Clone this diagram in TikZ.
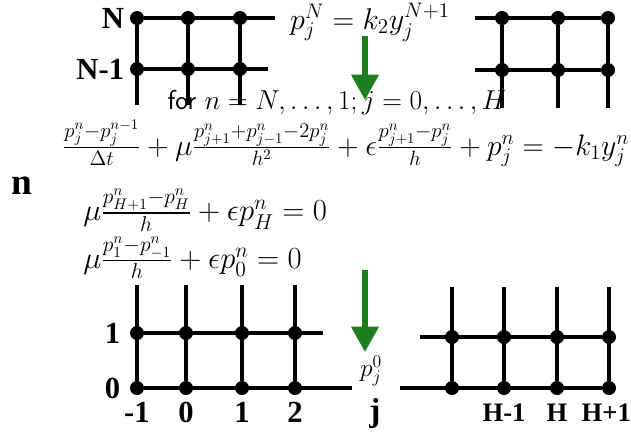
\RequirePackage{fix-cm}
\documentclass[tikz,border=0pt]{standalone}
\usepackage{fontspec}
\usepackage{amsmath}
\usetikzlibrary{arrows.meta,positioning}
\newfontfamily\lblfont{Liberation Serif}
\definecolor{flowGreen}{HTML}{1C7E1C}
\DeclareSymbolFont{sfdigits}{OT1}{cmss}{m}{n}
\DeclareMathSymbol{0}{\mathalpha}{sfdigits}{`0}
\DeclareMathSymbol{1}{\mathalpha}{sfdigits}{`1}
\DeclareMathSymbol{2}{\mathalpha}{sfdigits}{`2}

\begin{document}
\begin{tikzpicture}[x=0.75pt,y=-0.75pt,
    dot/.style={circle,fill=black,inner sep=0pt,minimum size=10.5pt},
    grid/.style={line width=2.6pt},
    lbl/.style={font=\lblfont\bfseries\fontsize{23}{24}\selectfont,inner sep=0pt},
    hlbl/.style={lbl,font=\lblfont\bfseries\fontsize{20}{22}\selectfont},
    eq/.style={font=\fontsize{22.5}{25}\selectfont,inner sep=0pt},
    flow/.style={-{Triangle[width=20pt,length=19pt]},line width=3.8pt,flowGreen}]
  \useasboundingbox (0,0) rectangle (631,440);

  \foreach \c/\x in {a/137,b/188,c/240}{
    \node[dot] (tN\c) at (\x,18) {};
    \node[dot] (tM\c) at (\x,69) {};
    \coordinate (tE\c) at (\x,105);
  }
  \coordinate (tNend) at (275,18);
  \coordinate (tMend) at (268,69);
  \draw[grid] (tNa) -- (tNend) (tMa) -- (tMend);
  \foreach \c in {a,b,c} \draw[grid] (tN\c) -- (tE\c);
  \node[lbl,left=4pt of tNa] {N};
  \node[lbl,left=4pt of tMa] {N-1};

  \foreach \c/\x in {a/502,b/558,c/608}{
    \node[dot] (rN\c) at (\x,18) {};
    \node[dot] (rM\c) at (\x,70) {};
    \coordinate (rE\c) at (\x,108);
  }
  \coordinate (rNbeg) at (475,18);
  \coordinate (rMbeg) at (475,70);
  \draw[grid] (rNbeg) -- (rNc) (rMbeg) -- (rMc);
  \foreach \c in {a,b,c} \draw[grid] (rN\c) -- (rE\c);

  \foreach \c/\x/\t in {a/137/-1,b/186/0,c/242/1,d/295/2}{
    \coordinate (bT\c) at (\x,285);
    \node[dot] (bO\c) at (\x,333) {};
    \node[dot] (bZ\c) at (\x,388) {};
    \node[lbl,below=5pt of bZ\c] {\t};
  }
  \coordinate (bOend) at (323,333);
  \coordinate (bZend) at (352,388);
  \draw[grid] (bOa) -- (bOend) (bZa) -- (bZend);
  \foreach \c in {a,b,c,d} \draw[grid] (bT\c) -- (bZ\c);
  \node[lbl,left=7pt of bOa] {1};
  \node[lbl,left=7pt of bZa] {0};

  \foreach \c/\x in {a/452,b/504,c/557,d/609}{
    \coordinate (cT\c) at (\x,287);
    \node[dot] (cO\c) at (\x,337) {};
    \node[dot] (cZ\c) at (\x,388) {};
  }
  \coordinate (cObeg) at (420,337);
  \coordinate (cZbeg) at (400,388);
  \draw[grid] (cObeg) -- (cOd) (cZbeg) -- (cZd);
  \foreach \c in {a,b,c,d} \draw[grid] (cT\c) -- (cZ\c);
  \node[hlbl,below=6pt of cZb] {H-1};
  \node[hlbl,below=6pt of cZc] {H};
  \node[hlbl,below=6pt of cZd,xshift=-2pt] {H+1};

  \node[eq] (pN) at (370,22) {$p_j^N=k_2y_j^{N+1}$};
  \node[eq,font=\fontsize{20.5}{23}\selectfont] (loop) at (337,103) {\textsf{for} $n=N,\ldots,1;j=0,\ldots,H$};
  \node[eq,font=\fontsize{22.2}{25}\selectfont] (main) at (346,143)
    {$\tfrac{p_j^n-p_j^{n-1}}{\Delta t}+\mu\tfrac{p_{j+1}^n+p_{j-1}^n-2p_j^n}{h^2}+\epsilon\tfrac{p_{j+1}^n-p_j^n}{h}+p_j^n=-k_1y_j^n$};
  \node[eq,font=\fontsize{23}{26}\selectfont,anchor=west] (bcH) at (83,210) {$\mu\tfrac{p_{H+1}^n-p_H^n}{h}+\epsilon p_H^n=0$};
  \node[eq,font=\fontsize{23}{26}\selectfont,anchor=west] (bc0) at (83,258) {$\mu\tfrac{p_1^n-p_{-1}^n}{h}+\epsilon p_0^n=0$};
  \node[lbl,font=\lblfont\bfseries\fontsize{28}{28}\selectfont] (nlbl) at (22,186) {n};

  \node[eq,font=\fontsize{19}{22}\selectfont] (p0) at (371,371) {$p_j^0$};
  \node[lbl,font=\lblfont\bfseries\fontsize{25}{25}\selectfont] (jlbl) at (375,413) {j};

  \coordinate (f1a) at (365,36);
  \coordinate (f1b) at (365,100);
  \coordinate (f2a) at (365,270);
  \coordinate (f2b) at (365,352);
  \draw[flow] (f1a) -- (f1b);
  \draw[flow] (f2a) -- (f2b);
\end{tikzpicture}
\end{document}
